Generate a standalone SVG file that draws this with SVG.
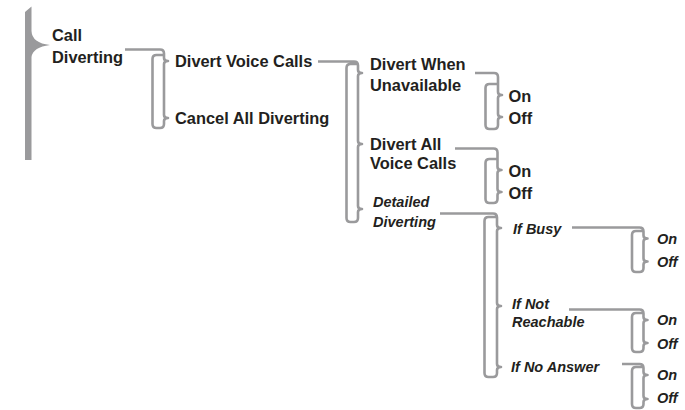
<svg xmlns="http://www.w3.org/2000/svg" width="685" height="410" viewBox="0 0 685 410">
<style>
.c{fill:none;stroke:#9a9a9c;stroke-width:2.6;stroke-linejoin:round;stroke-linecap:butt}
.t{font-family:"Liberation Sans",Arial,Helvetica,sans-serif;font-weight:bold;font-size:16.4px;fill:#231f20}
.i{font-family:"Liberation Sans",Arial,Helvetica,sans-serif;font-weight:bold;font-style:italic;font-size:14.5px;fill:#231f20}
</style>
<rect width="685" height="410" fill="#fff"/>
<g id="connectors">
<path d="M25,12 L31.5,6.5 L31.5,31 Q32,43 50,45 Q33,47 31.5,57 L31.5,160 L25,160 Z" fill="#9a9a9c"/>
<path class="c" d="M125,49.5 H160 Q164,49.5 164,53.5 V58 Q164,61 168,61 Q164,61 164,64 V115 Q164,118 168,118 Q164,118 164,121 V124 Q164,128 160,128 H156.5 Q152.5,128 152.5,124 V59 Q152.5,55 156.5,55 H164"/>
<path class="c" d="M318,61.5 H354 Q358,61.5 358,65.5 V70 Q358,73 362,73 Q358,73 358,76 V141 Q358,144 362,144 Q358,144 358,147 V206 Q358,209 362,209 Q358,209 358,212 V218 Q358,222 354,222 H350.5 Q346.5,222 346.5,218 V68 Q346.5,64 350.5,64 H358"/>
<path class="c" d="M475,73 H494 Q498,73 498,77 V92 Q498,95 502,95 Q498,95 498,98 V114 Q498,117 502,117 Q498,117 498,120 V125 Q498,129 494,129 H489.5 Q485.5,129 485.5,125 V88 Q485.5,84 489.5,84 H498"/>
<path class="c" d="M455,148.5 H493.5 Q497.5,148.5 497.5,152.5 V167 Q497.5,170 501.5,170 Q497.5,170 497.5,173 V189 Q497.5,192 501.5,192 Q497.5,192 497.5,195 V199 Q497.5,203 493.5,203 H489.5 Q485.5,203 485.5,199 V163 Q485.5,159 489.5,159 H497.5"/>
<path class="c" d="M440,213.5 H493 Q497,213.5 497,217.5 V225 Q497,228 501,228 Q497,228 497,231 V303 Q497,306 501,306 Q497,306 497,309 V364 Q497,367 501,367 Q497,367 497,370 V373 Q497,377 493,377 H488.5 Q484.5,377 484.5,373 V221 Q484.5,217 488.5,217 H497"/>
<path class="c" d="M572,227.5 H639.5 Q643.5,227.5 643.5,231.5 V235.5 Q643.5,238.5 647.5,238.5 Q643.5,238.5 643.5,241.5 V258.5 Q643.5,261.5 647.5,261.5 Q643.5,261.5 643.5,264.5 V268 Q643.5,272 639.5,272 H636 Q632,272 632,268 V235 Q632,231 636,231 H643.5"/>
<path class="c" d="M569,309.5 H639.5 Q643.5,309.5 643.5,313.5 V317 Q643.5,320 647.5,320 Q643.5,320 643.5,323 V340 Q643.5,343 647.5,343 Q643.5,343 643.5,346 V348 Q643.5,352 639.5,352 H636 Q632,352 632,348 V317 Q632,313 636,313 H643.5"/>
<path class="c" d="M622,364 H639.5 Q643.5,364 643.5,368 V372 Q643.5,375 647.5,375 Q643.5,375 643.5,378 V396 Q643.5,399 647.5,399 Q643.5,399 643.5,402 V404 Q643.5,408 639.5,408 H636 Q632,408 632,404 V371 Q632,367 636,367 H643.5"/>
</g>
<g id="call-diverting"><text class="t" x="52" y="40.5">Call</text><text class="t" x="52" y="63">Diverting</text></g>
<g id="divert-voice-calls"><text class="t" x="175" y="66.5">Divert Voice Calls</text></g>
<g id="cancel-all-diverting"><text class="t" x="175" y="123.5">Cancel All Diverting</text></g>
<g id="divert-when-unavailable"><text class="t" x="370" y="70">Divert When</text><text class="t" x="370" y="91">Unavailable</text></g>
<g id="dwu-on"><text class="t" x="508.5" y="101.7">On</text></g>
<g id="dwu-off"><text class="t" x="508.5" y="123.7">Off</text></g>
<g id="divert-all-voice-calls"><text class="t" x="370" y="150">Divert All</text><text class="t" x="370" y="169">Voice Calls</text></g>
<g id="dav-on"><text class="t" x="508.5" y="176.5">On</text></g>
<g id="dav-off"><text class="t" x="508.5" y="198.7">Off</text></g>
<g id="detailed-diverting"><text class="i" x="373" y="207">Detailed</text><text class="i" x="373" y="227">Diverting</text></g>
<g id="if-busy"><text class="i" x="513" y="233.5">If Busy</text></g>
<g id="busy-on"><text class="i" x="657" y="243.5">On</text></g>
<g id="busy-off"><text class="i" x="657" y="267">Off</text></g>
<g id="if-not-reachable"><text class="i" x="512" y="308.5">If Not</text><text class="i" x="512" y="327">Reachable</text></g>
<g id="nr-on"><text class="i" x="657" y="325">On</text></g>
<g id="nr-off"><text class="i" x="657" y="348.5">Off</text></g>
<g id="if-no-answer"><text class="i" x="511" y="372">If No Answer</text></g>
<g id="na-on"><text class="i" x="657" y="379.5">On</text></g>
<g id="na-off"><text class="i" x="657" y="403">Off</text></g>
</svg>
